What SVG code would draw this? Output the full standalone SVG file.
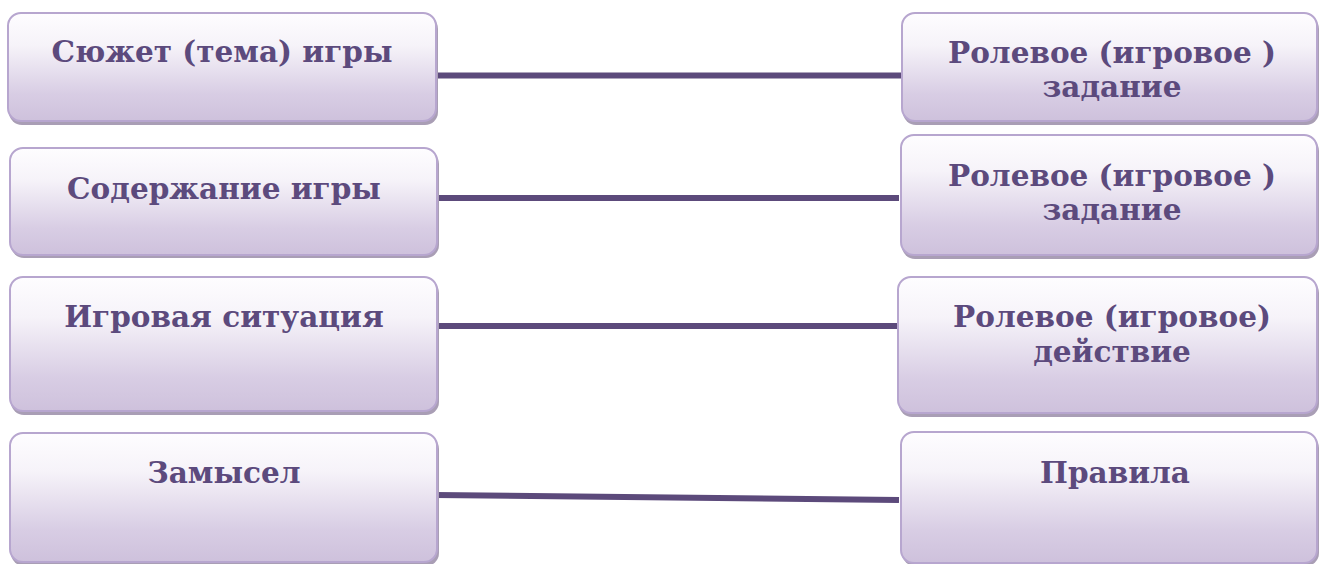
<svg xmlns="http://www.w3.org/2000/svg" width="1320" height="564" viewBox="0 0 1320 564">
<defs>
<linearGradient id="g" x1="0" y1="0" x2="0" y2="1">
<stop offset="0" stop-color="#fefdff"/>
<stop offset="0.3" stop-color="#f6f3f9"/>
<stop offset="0.75" stop-color="#d8cde4"/>
<stop offset="1" stop-color="#cec1dc"/>
</linearGradient>
</defs>
<style>
.box{fill:url(#g);stroke:#b7a6cf;stroke-width:2}
.sh{fill:#a99eb5}
.t{font-family:"DejaVu Serif","Liberation Serif",serif;font-weight:bold;font-size:29.5px;fill:#5c4a7d;text-anchor:middle}
.c{stroke:#5c4a7b;stroke-width:6;fill:none}
</style>
<rect width="1320" height="564" fill="#ffffff"/>
<g id="connectors">
<line class="c" x1="437" y1="75.5" x2="901" y2="75.5"/>
<line class="c" x1="435" y1="198" x2="899" y2="198"/>
<line class="c" x1="437" y1="326" x2="899" y2="326"/>
<line class="c" x1="435" y1="495" x2="899" y2="500"/>
</g>
<g id="n1">
<rect class="sh" x="9" y="16" width="429" height="109" rx="13"/>
<rect class="box" x="8" y="13" width="428" height="108" rx="13"/>
<text class="t" x="222" y="62">Сюжет (тема) игры</text>
</g>
<g id="n2">
<rect class="sh" x="11" y="151" width="428" height="107" rx="13"/>
<rect class="box" x="10" y="148" width="427" height="107" rx="13"/>
<text class="t" x="224" y="199">Содержание игры</text>
</g>
<g id="n3">
<rect class="sh" x="11" y="280" width="428" height="135" rx="13"/>
<rect class="box" x="10" y="277" width="427" height="134" rx="13"/>
<text class="t" x="224" y="327">Игровая ситуация</text>
</g>
<g id="n4">
<rect class="sh" x="11" y="436" width="428" height="130" rx="13"/>
<rect class="box" x="10" y="433" width="427" height="129" rx="13"/>
<text class="t" x="224" y="483">Замысел</text>
</g>
<g id="n5">
<rect class="sh" x="903" y="16" width="416" height="109" rx="13"/>
<rect class="box" x="902" y="13" width="415" height="108" rx="13"/>
<text class="t" x="1112" y="63">Ролевое (игровое )</text>
<text class="t" x="1112" y="97">задание</text>
</g>
<g id="n6">
<rect class="sh" x="902" y="138" width="417" height="121" rx="13"/>
<rect class="box" x="901" y="135" width="416" height="120" rx="13"/>
<text class="t" x="1112" y="186">Ролевое (игровое )</text>
<text class="t" x="1112" y="220">задание</text>
</g>
<g id="n7">
<rect class="sh" x="899" y="280" width="420" height="137" rx="13"/>
<rect class="box" x="898" y="277" width="419" height="136" rx="13"/>
<text class="t" x="1112" y="327">Ролевое (игровое)</text>
<text class="t" x="1112" y="362">действие</text>
</g>
<g id="n8">
<rect class="sh" x="902" y="435" width="417" height="131" rx="13"/>
<rect class="box" x="901" y="432" width="416" height="131" rx="13"/>
<text class="t" x="1115" y="483">Правила</text>
</g>
</svg>
